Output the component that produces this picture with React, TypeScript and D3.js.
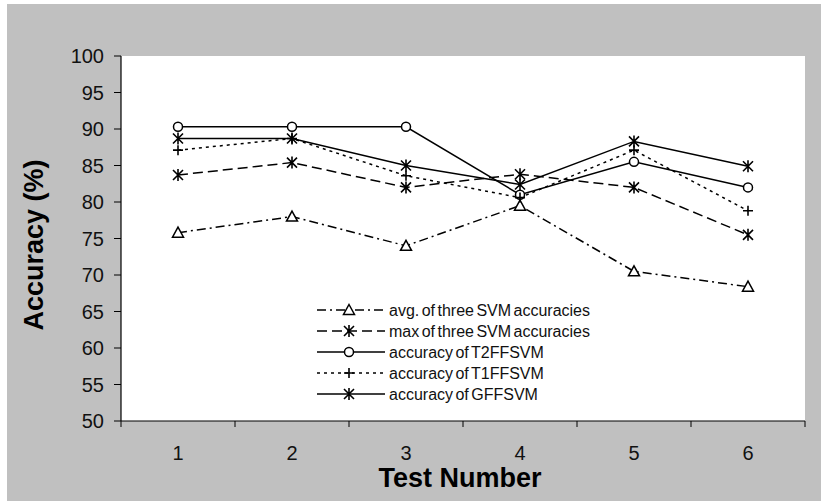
// Accuracy per test: five series (SVM avg/max, T2/T1/G fuzzy SVMs), Excel-style
// grey frame with a white plot area, markers in black ink, legend inside the plot.
import { useEffect, useRef } from "react";
import * as d3 from "d3";

const tests = ["1", "2", "3", "4", "5", "6"];
const yTicks = [50, 55, 60, 65, 70, 75, 80, 85, 90, 95, 100];

const avgSvm = [75.8, 78.0, 74.0, 79.5, 70.5, 68.4];
const maxSvm = [83.7, 85.4, 82.0, 83.8, 82.0, 75.5];
const t2ffsvm = [90.3, 90.3, 90.3, 81.0, 85.5, 82.0];
const t1ffsvm = [87.1, 88.7, 83.6, 80.6, 87.1, 78.8];
const gffsvm = [88.7, 88.7, 85.0, 82.4, 88.3, 84.9];

const seriesNames = [
  "avg. of three SVM accuracies",
  "max of three SVM accuracies",
  "accuracy of T2FFSVM",
  "accuracy of T1FFSVM",
  "accuracy of GFFSVM",
];

type Marker = "triangle" | "star" | "circle" | "plus";
type Series = { name: string; values: number[]; dash: string | null; marker: Marker };

const series: Series[] = [
  { name: seriesNames[0], values: avgSvm, dash: "9,4,2,4", marker: "triangle" },
  { name: seriesNames[1], values: maxSvm, dash: "10,5", marker: "star" },
  { name: seriesNames[2], values: t2ffsvm, dash: null, marker: "circle" },
  { name: seriesNames[3], values: t1ffsvm, dash: "3,4", marker: "plus" },
  { name: seriesNames[4], values: gffsvm, dash: null, marker: "star" },
];

const W = 821;
const H = 501;
const FONT = "'Liberation Sans', Arial, sans-serif";

function drawMarker(g: d3.Selection<SVGGElement, unknown, null, undefined>, kind: Marker, cx: number, cy: number) {
  const m = g.append("g").attr("transform", `translate(${cx},${cy})`);
  if (kind === "triangle") {
    m.append("path")
      .attr("d", "M0,-5.5 L5.5,4.5 L-5.5,4.5 Z")
      .attr("fill", "#fff")
      .attr("stroke", "#000")
      .attr("stroke-width", 1.5);
  } else if (kind === "circle") {
    m.append("circle").attr("r", 4.5).attr("fill", "#fff").attr("stroke", "#000").attr("stroke-width", 1.5);
  } else if (kind === "plus") {
    m.append("path").attr("d", "M-5,0 H5 M0,-5 V5").attr("stroke", "#000").attr("stroke-width", 1.6);
  } else {
    m.append("path")
      .attr("d", "M-5,-5 L5,5 M5,-5 L-5,5 M0,-6 V6")
      .attr("stroke", "#000")
      .attr("stroke-width", 1.6);
  }
}

export default function App() {
  const svgRef = useRef<SVGSVGElement>(null);

  useEffect(() => {
    const el = svgRef.current;
    if (!el) return;
    const svg = d3.select(el);
    svg.selectAll("*").remove();

    const plot = { left: 121, right: 805, top: 56, bottom: 421 };

    const x = d3.scaleBand<string>().domain(tests).range([plot.left, plot.right]).padding(0);
    const y = d3.scaleLinear().domain([50, 100]).range([plot.bottom, plot.top]);
    const cx = (t: string) => (x(t) ?? 0) + x.bandwidth() / 2;

    // frame + plot area
    svg.append("rect").attr("x", 7).attr("y", 4).attr("width", W - 7).attr("height", H - 4).attr("fill", "#c0c0c0");
    svg
      .append("rect")
      .attr("x", plot.left)
      .attr("y", plot.top)
      .attr("width", plot.right - plot.left)
      .attr("height", plot.bottom - plot.top)
      .attr("fill", "#fff");

    // y axis
    const ya = svg.append("g");
    ya.append("line")
      .attr("x1", plot.left).attr("x2", plot.left)
      .attr("y1", plot.top).attr("y2", plot.bottom)
      .attr("stroke", "#000").attr("stroke-width", 1.2);
    ya.selectAll("line.tick")
      .data(yTicks)
      .join("line")
      .attr("class", "tick")
      .attr("x1", plot.left - 7).attr("x2", plot.left)
      .attr("y1", (d) => y(d)).attr("y2", (d) => y(d))
      .attr("stroke", "#000").attr("stroke-width", 1);
    ya.selectAll("text")
      .data(yTicks)
      .join("text")
      .attr("x", 104)
      .attr("y", (d) => y(d))
      .attr("dy", "0.36em")
      .attr("text-anchor", "end")
      .attr("font-family", FONT)
      .attr("font-size", 20)
      .attr("fill", "#111")
      .text((d) => `${d}`);

    // x axis — ticks on band edges, labels centred in bands
    const xa = svg.append("g");
    xa.append("line")
      .attr("x1", plot.left).attr("x2", plot.right)
      .attr("y1", plot.bottom).attr("y2", plot.bottom)
      .attr("stroke", "#000").attr("stroke-width", 1.2);
    const edges = [...tests.map((t) => x(t) ?? 0), plot.right];
    xa.selectAll("line.tick")
      .data(edges)
      .join("line")
      .attr("class", "tick")
      .attr("x1", (d) => d).attr("x2", (d) => d)
      .attr("y1", plot.bottom).attr("y2", plot.bottom + 6)
      .attr("stroke", "#000").attr("stroke-width", 1);
    xa.selectAll("text")
      .data(tests)
      .join("text")
      .attr("x", (d) => cx(d))
      .attr("y", 460)
      .attr("text-anchor", "middle")
      .attr("font-family", FONT)
      .attr("font-size", 20)
      .attr("fill", "#111")
      .text((d) => d);

    // axis titles
    svg.append("text")
      .attr("x", (plot.left + plot.right) / 2 - 3)
      .attr("y", 487)
      .attr("text-anchor", "middle")
      .attr("font-family", FONT)
      .attr("font-weight", "bold")
      .attr("font-size", 27)
      .text("Test Number");
    svg.append("text")
      .attr("transform", `translate(43,245) rotate(-90)`)
      .attr("text-anchor", "middle")
      .attr("font-family", FONT)
      .attr("font-weight", "bold")
      .attr("font-size", 27)
      .text("Accuracy (%)");

    // series lines + markers
    const line = d3
      .line<number>()
      .x((_d, i) => cx(tests[i]))
      .y((d) => y(d));
    for (const s of series) {
      svg.append("path")
        .attr("d", line(s.values) ?? "")
        .attr("fill", "none")
        .attr("stroke", "#000")
        .attr("stroke-width", 1.5)
        .attr("stroke-dasharray", s.dash ?? null);
    }
    for (const s of series) {
      const g = svg.append("g");
      s.values.forEach((v, i) => drawMarker(g, s.marker, cx(tests[i]), y(v)));
    }

    // legend
    const lg = svg.append("g");
    series.forEach((s, i) => {
      const ly = 310 + i * 21;
      lg.append("line")
        .attr("x1", 317).attr("x2", 385)
        .attr("y1", ly).attr("y2", ly)
        .attr("stroke", "#000")
        .attr("stroke-width", 1.5)
        .attr("stroke-dasharray", s.dash ?? null);
      drawMarker(lg, s.marker, 349, ly);
      lg.append("text")
        .attr("x", 389)
        .attr("y", ly)
        .attr("dy", "0.36em")
        .attr("font-family", FONT)
        .attr("font-size", 16)
        .attr("word-spacing", "-2px")
        .attr("fill", "#111")
        .text(s.name);
    });
  }, []);

  return (
    <svg
      ref={svgRef}
      width={W}
      height={H}
      viewBox={`0 0 ${W} ${H}`}
      style={{ position: "absolute", left: 0, top: 0, background: "#fff" }}
    />
  );
}
